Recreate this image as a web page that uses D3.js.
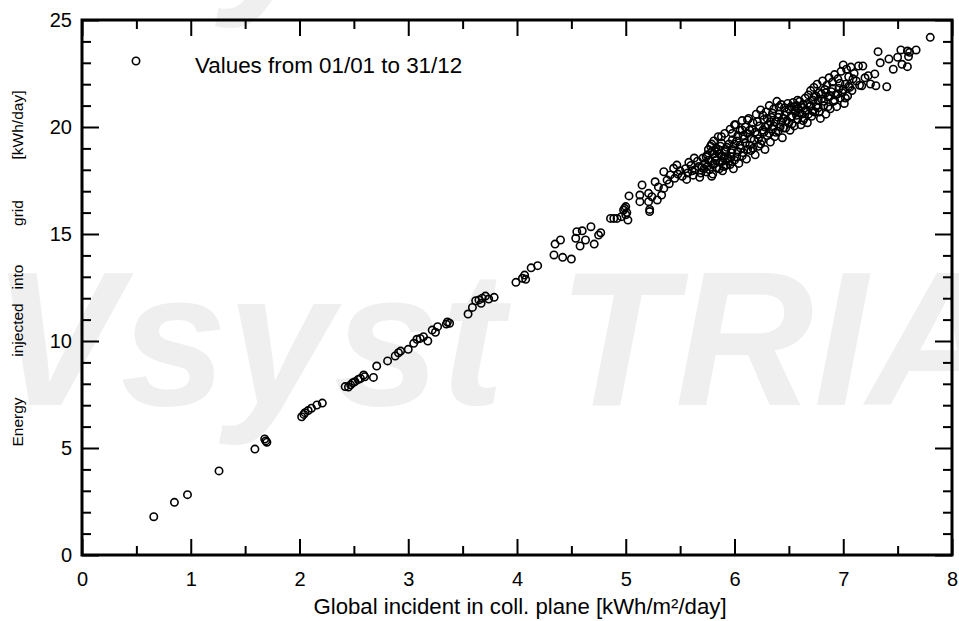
<!DOCTYPE html>
<html>
<head>
<meta charset="utf-8">
<script src="https://cdn.jsdelivr.net/npm/d3@7"></script>
<style>
  body { margin: 0; background: #fff; }
  svg { display: block; font-family: "Liberation Sans", Arial, sans-serif; }
</style>
</head>
<body>
<script>
(()=>{
    const width = 959;
    const height = 621;
    const marginTop = 20;
    const marginRight = 7;
    const marginBottom = 66;
    const marginLeft = 82;

    const xTitle = "Global incident in coll. plane [kWh/m²/day]";
    const yTitleWords = ["Energy", "injected", "into", "grid", "[kWh/day]"];
    const legendLabel = "Values from 01/01 to 31/12";
    const watermark = "PVsyst TRIAL";

    const xMajorTicks = [0, 1, 2, 3, 4, 5, 6, 7, 8];
    const xMinorTicks = [0.5, 1.5, 2.5, 3.5, 4.5, 5.5, 6.5, 7.5];
    const yMajorTicks = [0, 5, 10, 15, 20, 25];
    const yMinorTicks = [1, 2, 3, 4, 6, 7, 8, 9, 11, 12, 13, 14, 16, 17, 18, 19, 21, 22, 23, 24];

    // daily values [global incident, energy to grid], low irradiance days
    const dimDays = [
        [0.66,1.79],[0.85,2.46],[0.97,2.82],[1.26,3.93],[1.59,4.95],[1.68,5.42],[1.69,5.33],[1.70,5.27],
        [2.02,6.46],[2.04,6.57],[2.05,6.65],[2.08,6.75],[2.11,6.86],[2.16,7.01],[2.21,7.10],
        [2.42,7.87],[2.45,7.85],[2.47,7.95],[2.49,8.05],[2.51,8.10],[2.54,8.20],[2.56,8.25],[2.59,8.41],
        [2.60,8.33],[2.68,8.30],[2.71,8.83],[2.81,9.07],[2.88,9.30],[2.91,9.45],[2.93,9.53],[3.00,9.61],
        [3.05,9.89],[3.08,10.08],[3.11,10.12],[3.14,10.20],[3.18,10.00],[3.22,10.51],[3.25,10.41],[3.27,10.67],
        [3.35,10.79],[3.36,10.89],[3.38,10.83],[3.55,11.26],[3.59,11.57],[3.62,11.88],[3.65,11.92],[3.67,11.76],
        [3.68,12.00],[3.71,12.10],[3.74,11.96],[3.79,12.04],[3.99,12.74],[4.05,12.93],[4.07,13.08],[4.08,12.88],
        [4.13,13.42],[4.19,13.52],[4.34,14.02],[4.42,13.91],[4.50,13.83],[4.35,14.53],[4.40,14.72],[4.55,15.11],
        [4.60,15.15],[4.68,15.34],[4.77,15.06],[4.54,14.80],[4.58,14.44],[4.63,14.72],[4.71,14.53],[4.75,14.95],
        [4.86,15.73],[4.89,15.73],[4.92,15.73],[4.96,15.81],[4.98,16.12],[5.00,16.28],[5.01,16.00],[5.02,15.65],
        [5.03,16.78],[4.99,16.20],[5.00,15.90]
    ];

    // daily values, sunny part of the year
    const brightDays = [
        [5.13,16.82],[5.15,17.29],[5.13,16.51],[5.21,16.90],[5.21,16.51],[5.22,16.05],[5.22,16.15],[5.24,16.74],
        [5.27,17.44],[5.29,16.59],[5.33,16.82],[5.35,17.13],[5.35,17.91],[5.38,17.52],[5.41,17.76],[5.44,18.07],
        [5.47,18.22],[5.30,17.20],[5.40,17.35],[5.45,17.60],[5.48,17.80],[5.50,17.95],[5.52,17.70],[5.55,18.05],
        [5.57,17.85],[5.60,18.20],[5.62,17.75],[5.64,18.00],[5.66,18.40],[5.68,17.65],[5.70,18.10],[5.71,18.55],
        [5.73,18.30],[5.74,17.90],[5.75,18.70],[5.76,18.45],[5.77,18.00],[5.78,19.10],[5.79,18.85],[5.80,18.25],
        [5.80,17.80],[5.81,19.35],[5.82,18.60],[5.83,19.00],[5.84,18.10],[5.85,19.55],[5.86,18.75],[5.87,18.35],
        [5.88,19.25],[5.89,17.95],[5.90,18.55],[5.91,19.70],[5.92,18.20],[5.93,19.05],[5.95,18.40],[5.96,19.90],
        [5.97,18.80],[5.98,19.40],[5.99,18.05],[6.00,19.20],[6.01,20.10],[6.02,18.60],[6.03,19.60],[6.04,18.30],
        [6.05,19.85],[6.06,19.00],[6.07,20.30],[6.08,18.80],[6.09,19.45],[6.10,20.00],[6.11,18.50],[6.12,19.70],
        [6.13,20.40],[6.14,19.15],[6.15,18.90],[6.16,19.90],[6.17,20.20],[6.18,19.40],[6.19,18.70],[6.20,20.60],
        [6.21,19.65],[6.22,19.10],[6.23,20.05],[6.24,20.80],[6.25,19.35],[6.26,19.85],[6.27,20.35],[6.28,18.95],
        [6.29,20.70],[6.30,19.60],[6.31,20.10],[6.32,21.00],[6.33,19.30],[6.34,20.45],[6.35,19.90],[6.36,20.85],
        [6.37,19.55],[6.38,20.25],[6.39,21.20],[6.40,19.80],[6.41,20.60],[6.42,20.00],[6.43,21.05],[6.44,19.50],
        [6.45,20.40],[6.46,20.90],[6.47,19.95],[6.48,20.70],[6.49,21.10],[6.50,20.20],[6.51,19.85],[6.52,20.95],
        [6.53,20.50],[6.54,21.15],[6.55,20.05],[6.56,20.75],[6.57,21.00],[6.58,20.35],[6.59,20.85],[6.60,21.20],
        [6.61,20.10],[6.62,20.60],[6.63,21.05],[6.64,20.40],[6.65,21.35],[6.66,20.80],[6.67,20.20],[6.68,21.50],
        [6.69,20.95],[6.70,21.70],[6.71,20.50],[6.72,21.25],[6.73,21.85],[6.74,20.70],[6.75,21.45],[6.76,22.00],
        [6.77,20.90],[6.78,21.60],[6.79,20.40],[6.80,21.30],[6.81,22.15],[6.82,21.00],[6.83,21.75],[6.84,20.60],
        [6.85,21.95],[6.86,21.40],[6.87,22.30],[6.88,20.85],[6.89,21.65],[6.90,22.10],[6.91,21.20],[6.92,22.45],
        [6.93,21.50],[6.94,20.95],[6.95,22.25],[6.96,21.80],[6.97,21.35],[6.98,22.60],[6.99,21.60],[7.00,22.90],
        [7.01,21.10],[7.02,22.00],[7.03,22.70],[7.04,21.45],[7.05,22.35],[7.06,21.85],[7.07,22.80],[7.08,21.70],
        [7.10,22.50],[7.12,22.15],[7.14,22.85],[7.15,21.95],[7.17,21.93],[7.18,22.85],[7.20,22.30],[7.23,22.40],
        [7.25,22.01],[7.29,22.48],[7.30,21.93],[7.32,23.52],[7.34,23.00],[7.40,21.88],[7.42,23.18],[7.46,22.70],
        [7.50,23.26],[7.53,23.60],[7.54,22.93],[7.59,23.55],[7.59,22.82],[7.60,23.29],[7.61,23.49],[7.67,23.60],
        [7.80,24.19],
        [5.56,17.55],[5.58,18.35],[5.61,17.95],[5.63,18.55],[5.67,18.15],[5.69,17.85],[5.72,18.05],[5.75,18.15],
        [5.78,18.40],[5.79,17.70],[5.82,18.30],[5.84,18.85],[5.86,18.05],[5.88,18.65],[5.90,18.15],[5.92,18.95],
        [5.94,18.55],[5.96,18.25],[5.98,18.95],[6.00,18.45],[6.02,19.35],[6.03,18.85],[6.05,19.15],[6.07,18.65],
        [6.08,19.60],[6.10,19.25],[6.12,18.95],[6.14,19.85],[6.15,19.45],[6.17,19.00],[6.19,19.75],[6.21,20.25],
        [6.22,19.45],[6.24,19.20],[6.26,20.55],[6.27,19.75],[6.28,20.00],[6.30,20.40],[6.32,19.70],[6.33,20.25],
        [6.35,20.65],[6.36,20.05],[6.38,19.75],[6.40,20.45],[6.41,20.95],[6.43,20.25],[6.45,19.95],[6.46,20.55],
        [6.48,20.30],[6.50,20.85],[6.52,20.45],[6.53,20.15],[6.55,20.95],[6.57,20.55],[6.58,21.25],[6.60,20.65],
        [6.62,20.95],[6.63,20.30],[6.65,20.75],[6.67,21.10],[6.68,20.60],[6.70,21.00],[6.72,20.75],[6.73,21.40],
        [6.75,20.95],[6.77,21.25],[6.78,20.70],[6.80,21.55],[6.82,21.20],[6.84,21.60],[6.86,20.95],[6.88,21.45],
        [6.90,21.80],[6.92,21.25],[6.95,21.55],[6.97,22.05],[7.00,21.75],[7.02,21.35],[7.05,21.90],[7.09,22.25],
        [5.74,18.60],[5.76,18.95],[5.79,19.20],[5.81,18.75],[5.83,18.45],[5.85,18.95],[5.87,19.10],[5.89,18.40],
        [5.91,18.85],[5.93,18.45],[5.95,19.20],[5.97,18.60],[6.12,20.33],[6.00,20.10],[6.07,19.86],[5.88,19.55],
        [5.98,19.70]
    ];

    const days = dimDays.concat(brightDays);

    const x = d3.scaleLinear()
        .domain([0, 8])
        .range([marginLeft, width - marginRight]);

    const y = d3.scaleLinear()
        .domain([0, 25])
        .range([height - marginBottom, marginTop]);

    const svg = d3.create("svg")
        .attr("width", width)
        .attr("height", height)
        .attr("viewBox", [0, 0, width, height]);

    svg.append("rect")
        .attr("width", width)
        .attr("height", height)
        .attr("fill", "#fff");

    // trial watermark, behind everything
    const wm = svg.append("g")
        .attr("fill", "#efefef")
        .attr("font-size", 192)
        .attr("font-weight", "bold")
        .attr("font-style", "italic");
    wm.append("text").attr("x", -136).attr("y", 405).text(watermark);
    wm.append("text").attr("x", -140).attr("y", -12).text(watermark);

    const ticksStyle = g => {
        g.select(".domain").remove();
        g.selectAll(".tick line").attr("stroke", "#000").attr("stroke-width", 2);
        g.selectAll(".tick text").attr("fill", "#000");
    };

    // bottom axis with labels, ticks pointing inside
    svg.append("g")
        .attr("transform", `translate(0,${height - marginBottom})`)
        .call(d3.axisBottom(x).tickValues(xMajorTicks).tickSize(-16).tickPadding(17).tickFormat(d3.format("d")))
        .attr("font-size", 20)
        .attr("font-family", null)
        .call(ticksStyle);
    svg.append("g")
        .attr("transform", `translate(0,${height - marginBottom})`)
        .call(d3.axisBottom(x).tickValues(xMinorTicks).tickSize(-9).tickFormat(""))
        .call(ticksStyle);

    svg.append("g")
        .attr("transform", `translate(0,${marginTop})`)
        .call(d3.axisTop(x).tickValues(xMajorTicks).tickSize(-16).tickFormat(""))
        .call(ticksStyle);
    svg.append("g")
        .attr("transform", `translate(0,${marginTop})`)
        .call(d3.axisTop(x).tickValues(xMinorTicks).tickSize(-9).tickFormat(""))
        .call(ticksStyle);

    svg.append("g")
        .attr("transform", `translate(${marginLeft},0)`)
        .call(d3.axisLeft(y).tickValues(yMajorTicks).tickSize(-17).tickPadding(10).tickFormat(d3.format("d")))
        .attr("font-size", 20)
        .attr("font-family", null)
        .call(ticksStyle);
    svg.append("g")
        .attr("transform", `translate(${marginLeft},0)`)
        .call(d3.axisLeft(y).tickValues(yMinorTicks).tickSize(-9).tickFormat(""))
        .call(ticksStyle);

    svg.append("g")
        .attr("transform", `translate(${width - marginRight},0)`)
        .call(d3.axisRight(y).tickValues(yMajorTicks).tickSize(-17).tickFormat(""))
        .call(ticksStyle);
    svg.append("g")
        .attr("transform", `translate(${width - marginRight},0)`)
        .call(d3.axisRight(y).tickValues(yMinorTicks).tickSize(-9).tickFormat(""))
        .call(ticksStyle);

    // frame
    svg.append("rect")
        .attr("x", marginLeft)
        .attr("y", marginTop)
        .attr("width", width - marginLeft - marginRight)
        .attr("height", height - marginTop - marginBottom)
        .attr("fill", "none")
        .attr("stroke", "#000")
        .attr("stroke-width", 3);

    // the daily points
    svg.append("g")
        .attr("fill", "none")
        .attr("stroke", "#000")
        .attr("stroke-width", 1.6)
        .selectAll("circle")
        .data(days)
        .join("circle")
        .attr("cx", d => x(d[0]))
        .attr("cy", d => y(d[1]))
        .attr("r", 3.7);

    // legend
    svg.append("circle")
        .attr("cx", 136)
        .attr("cy", 61)
        .attr("r", 3.7)
        .attr("fill", "none")
        .attr("stroke", "#000")
        .attr("stroke-width", 1.6);
    svg.append("text")
        .attr("x", 195)
        .attr("y", 73)
        .attr("font-size", 22.4)
        .attr("fill", "#000")
        .text(legendLabel);

    // axis titles
    svg.append("text")
        .attr("x", (marginLeft + width - marginRight) / 2 + 3)
        .attr("y", 614)
        .attr("text-anchor", "middle")
        .attr("font-size", 22.2)
        .attr("fill", "#000")
        .text(xTitle);

    const yWordCenters = [422, 330, 277, 213, 125];
    svg.append("g")
        .attr("font-size", 15.5)
        .attr("fill", "#000")
        .attr("text-anchor", "middle")
        .selectAll("text")
        .data(yTitleWords)
        .join("text")
        .attr("transform", (d, i) => `translate(23,${yWordCenters[i]}) rotate(-90)`)
        .text(d => d);

    d3.select("body").append(() => svg.node());
})()
</script>
</body>
</html>
